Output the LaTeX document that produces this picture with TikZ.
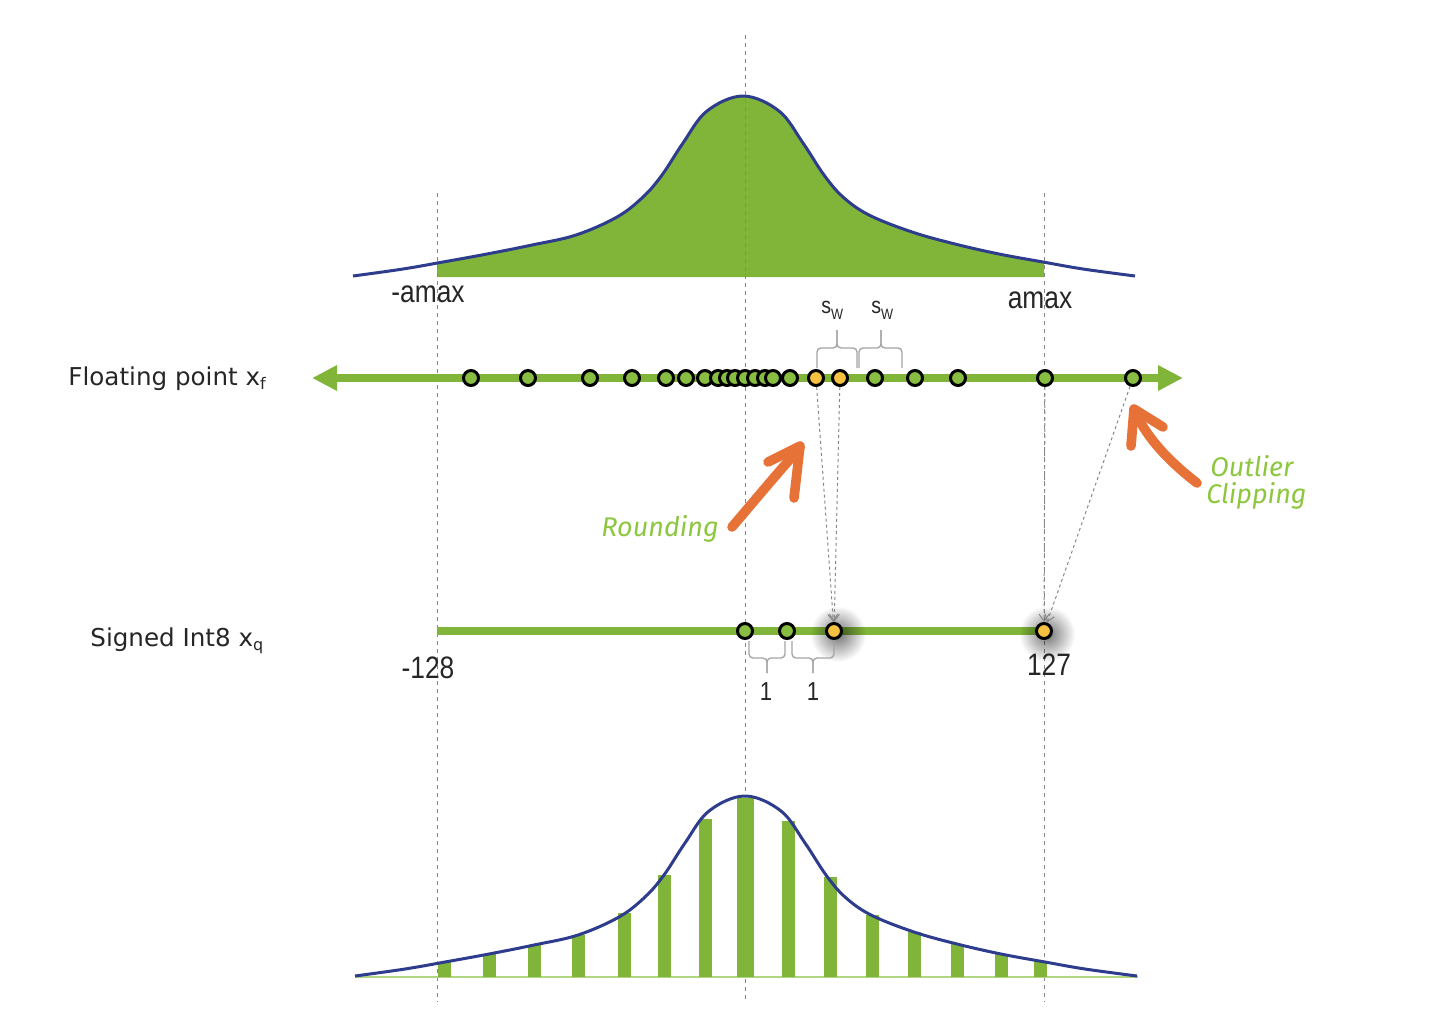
\documentclass[tikz,border=0pt]{standalone}
\usepackage{fontspec}
\setmainfont{DejaVu Sans}
\newfontfamily\narrowfont[FakeStretch=0.85]{Liberation Sans}
\newfontfamily\comicfont{Fira Sans}
\usetikzlibrary{arrows.meta,fadings}
\definecolor{fgreen}{RGB}{128,181,58}
\definecolor{cgreen}{RGB}{135,190,65}
\definecolor{corange}{RGB}{246,192,64}
\definecolor{cblue}{RGB}{45,60,140}
\definecolor{aorange}{RGB}{230,114,56}
\definecolor{tgreen}{RGB}{141,198,63}
\definecolor{dgrey}{RGB}{135,135,135}
\definecolor{bgrey}{RGB}{165,165,165}
\definecolor{lgreen}{RGB}{175,215,130}
\newcommand{\lowsub}[1]{\raisebox{-0.35ex}{\fontsize{8}{9}\selectfont #1}}
\tikzfading[name=glowfade, inner color=transparent!0, outer color=transparent!100]
\tikzset{
  guide/.style={dgrey, line width=0.5pt, dash pattern=on 2pt off 2pt},
  curve/.style={cblue, line width=1.5pt},
  axis/.style={fgreen, line width=4pt},
  dot/.style={circle, draw=black, line width=1.5pt, fill=cgreen, minimum size=7.5pt, inner sep=0pt},
  odot/.style={dot, fill=corange},
  brc/.style={bgrey, line width=0.7pt, rounded corners=2pt},
  maparrow/.style={dgrey, line width=0.5pt, dash pattern=on 1.5pt off 1.5pt, -{Straight Barb[length=3.5pt,width=5pt]}},
  hand/.style={aorange, line width=4.8pt, line cap=round, line join=round},
  lbl/.style={font=\fontsize{12.3}{14}\selectfont, text=black!85, inner sep=0pt},
  num/.style={font=\narrowfont\fontsize{15.5}{18}\selectfont, text=black!85, inner sep=0pt},
  one/.style={font=\narrowfont\fontsize{13}{15}\selectfont, text=black!85, inner sep=0pt},
  comic/.style={font=\comicfont\itshape\fontsize{13.5}{16}\selectfont, text=tgreen, inner sep=0pt},
  glow/.style={black, opacity=0.55, path fading=glowfade},
  bar/.style={fill=fgreen}
}
\begin{document}
\begin{tikzpicture}[x=0.5pt,y=-0.5pt]
\useasboundingbox (0,0) rectangle (1456,1018);
% ---------- top distribution ----------
\begin{scope}[shift={(743,277)}]
  \begin{scope}
    \clip (-306,-200) rectangle (301,1);
    \fill[fgreen] plot[smooth,tension=0.6] coordinates {(-390,-1) (-340,-8) (-300,-15) (-256,-23) (-211,-32) (-167,-42) (-126,-60) (-100,-80) (-81,-102) (-60,-134) (-36,-166) (0,-181) (36,-166) (60,-134) (81,-102) (100,-80) (126,-62) (169,-45) (212,-33) (256,-23) (300,-15) (340,-8) (392,-1)} -- (392,0) -- (-390,0) -- cycle;
  \end{scope}
  \draw[curve] plot[smooth,tension=0.6] coordinates {(-390,-1) (-340,-8) (-300,-15) (-256,-23) (-211,-32) (-167,-42) (-126,-60) (-100,-80) (-81,-102) (-60,-134) (-36,-166) (0,-181) (36,-166) (60,-134) (81,-102) (100,-80) (126,-62) (169,-45) (212,-33) (256,-23) (300,-15) (340,-8) (392,-1)};
\end{scope}
% ---------- guides ----------
\draw[guide] (437,193) -- (437,1002);
\draw[guide] (745,35) -- (745,1002);
\draw[guide] (1044,193) -- (1044,1002);
% ---------- bottom histogram ----------
\begin{scope}[shift={(745,977)}]
  \draw[lgreen, line width=1pt] (-390,0) -- (393,0);
  \foreach \bx/\bh in {-301/15, -256/23, -211/32, -167/42, -121/64, -81/102, -40/158, 43/156, 85/100, 127/62, 169/45, 212/33, 256/23, 295/16}
    \fill[bar] (\bx-6.5,0) rectangle (\bx+6.5,-\bh);
  \fill[bar] (-8.5,0) rectangle (8.5,-179);
  \draw[curve] plot[smooth,tension=0.6] coordinates {(-390,-1) (-340,-8) (-300,-15) (-256,-23) (-211,-32) (-167,-42) (-126,-60) (-100,-80) (-81,-102) (-60,-134) (-36,-166) (0,-181) (36,-166) (60,-134) (81,-102) (100,-80) (126,-62) (169,-45) (212,-33) (256,-23) (300,-15) (340,-8) (392,-1)};
\end{scope}
% ---------- axes ----------
\coordinate (fpL) at (312,378);
\coordinate (fpR) at (1183,378);
\coordinate (qL) at (437,631);
\coordinate (qR) at (1044,631);
\draw[axis, {Triangle[length=12.5pt,width=12pt]}-{Triangle[length=12.5pt,width=12pt]}] (fpL) -- (fpR);
\draw[axis] (qL) -- (qR);
% glows
\fill[glow] (838,634) circle (28);
\fill[glow] (1047,634) circle (28);
% ---------- floating point values ----------
\foreach \x [count=\i] in {471,528,590,632,666,686,705,718,727,735,745,755,765,773,790}
  \node[dot] (f\i) at (\x,378) {};
\node[odot] (fo1) at (816,378) {};
\node[odot] (fo2) at (840,378) {};
\foreach \x [count=\i] in {875,915,958,1045,1133}
  \node[dot] (g\i) at (\x,378) {};
% ---------- int8 values ----------
\node[dot] (q1) at (745,631) {};
\node[dot] (q2) at (787,631) {};
\node[odot] (q3) at (834,631) {};
\node[odot] (q4) at (1044,631) {};
% ---------- mapping arrows ----------
\draw[maparrow] (fo1) -- (q3);
\draw[maparrow] (fo2) -- (q3);
\draw[maparrow] (g4) -- (q4);
\draw[maparrow] (g5) -- (q4);
% ---------- braces ----------
\draw[brc] (817,368) -- (817,348) -- (837,348) -- (837,330);
\draw[brc] (857,368) -- (857,348) -- (837,348) -- (837,330);
\draw[brc] (859,368) -- (859,348) -- (881,348) -- (881,330);
\draw[brc] (902,368) -- (902,348) -- (881,348) -- (881,330);
\draw[brc] (749,641) -- (749,658) -- (767,658) -- (767,673);
\draw[brc] (785,641) -- (785,658) -- (767,658) -- (767,673);
\draw[brc] (792,641) -- (792,658) -- (813,658) -- (813,673);
\draw[brc] (834,641) -- (834,658) -- (813,658) -- (813,673);
% ---------- hand-drawn arrows ----------
\draw[hand] (732,527) .. controls (755,500) and (780,470) .. (800,448);
\draw[hand] (768,462) -- (800,446) -- (794,498);
\draw[hand] (1197,483) .. controls (1170,462) and (1148,440) .. (1134,410);
\draw[hand] (1131,446) -- (1134,409) -- (1163,427);
% ---------- labels ----------
\node[lbl, anchor=base west] (tfp) at (68,385) {Floating point x\lowsub{f}};
\node[lbl, anchor=base west] (tq) at (90,646) {Signed Int8 x\lowsub{q}};
\node[num, anchor=base] (tnamax) at (428,302) {-amax};
\node[num, anchor=base] (tamax) at (1040,308) {amax};
\node[anchor=base west, inner sep=0pt, text=black!85] (sw1) at (821,313) {\narrowfont\fontsize{11.5}{13}\selectfont s\raisebox{-0.5ex}{\fontsize{7.5}{9}\selectfont W}};
\node[anchor=base west, inner sep=0pt, text=black!85] (sw2) at (871,313) {\narrowfont\fontsize{11.5}{13}\selectfont s\raisebox{-0.5ex}{\fontsize{7.5}{9}\selectfont W}};
\node[num, anchor=base] (tm128) at (428,678) {-128};
\node[num, anchor=base] (t127) at (1049,675) {127};
\node[one, anchor=base] (one1) at (766,700) {1};
\node[one, anchor=base] (one2) at (813,700) {1};
\node[comic, anchor=base west] (tround) at (601,536) {Rounding};
\node[comic, anchor=base west] (tout) at (1210,476) {Outlier};
\node[comic, anchor=base west] (tclip) at (1206,503) {Clipping};
\end{tikzpicture}
\end{document}
